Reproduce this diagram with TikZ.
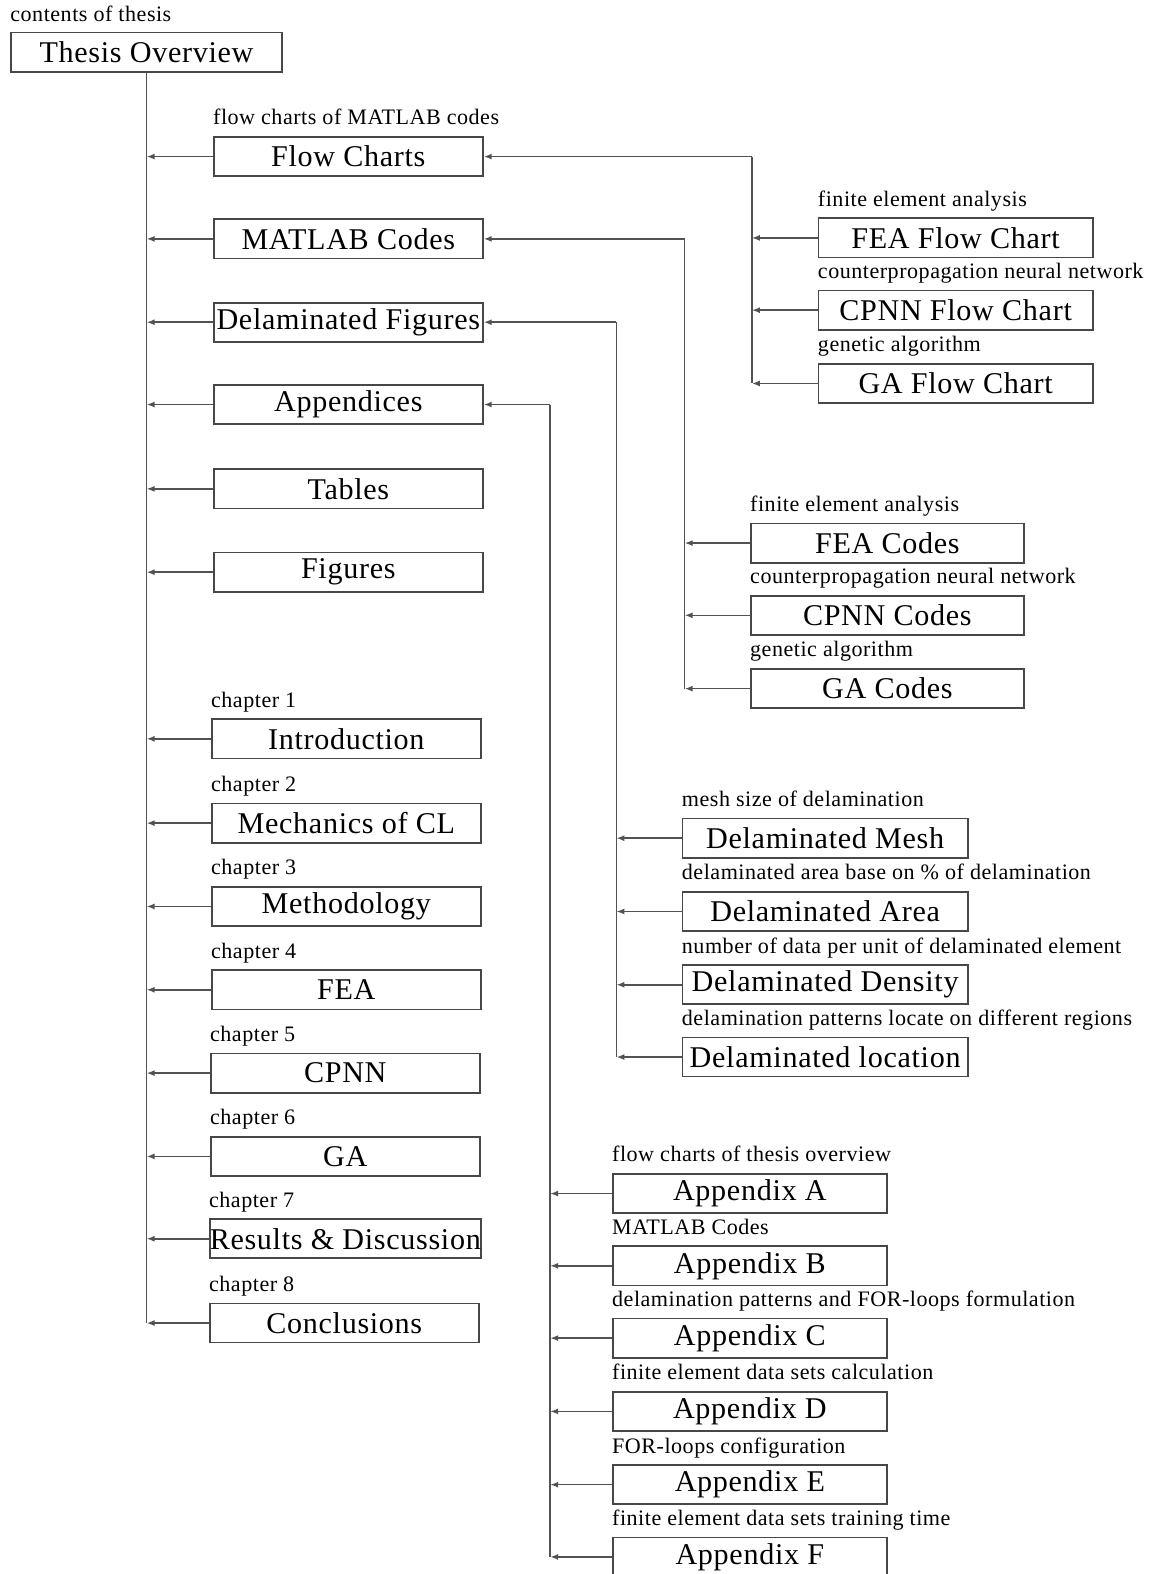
\documentclass[tikz,border=0pt]{standalone}
\usepackage{fontspec}
\setmainfont{Liberation Serif}[LetterSpace=2.3]
\usetikzlibrary{arrows.meta}
\begin{document}
\begin{tikzpicture}[x=1pt, y=-1pt,
    box/.style={draw=black!72, line width=1.7pt, minimum height=39pt, inner sep=0pt, font=\fontsize{30}{34}\selectfont},
    lbox/.style={box, minimum width=268pt},
    rbox/.style={box, minimum width=273pt},
    lab/.style={anchor=south west, inner sep=0pt, text height=15pt, text depth=5pt, font=\fontsize{22}{25}\selectfont},
    bus/.style={draw=black!68, line width=1.6pt},
    arr/.style={bus, -{Latex[length=8pt,width=6pt]}}]
    \useasboundingbox (0,0) rectangle (1146,1568);
    % main column
    \node[box, minimum width=270pt] (ov) at (146,52) {Thesis Overview};
    \node[lab] (ovlab) at ([yshift=5pt]ov.north west) {contents of thesis};
    \node[lbox] (flow) at (347,156) {Flow Charts};
    \node[lbox] (codes) at (347,238) {MATLAB Codes};
    \node[lbox] (delfig) at (347,321) {Delaminated Figures};
    \node[lbox] (apps) at (347,403) {Appendices};
    \node[lbox] (tabs) at (347,487) {Tables};
    \node[lbox] (figs) at (347,570) {Figures};
    \node[lbox] (ch1) at (345,736) {Introduction};
    \node[lbox] (ch2) at (345,820) {Mechanics of CL};
    \node[lbox] (ch3) at (345,903) {Methodology};
    \node[lbox] (ch4) at (345,986) {FEA};
    \node[lbox] (ch5) at (344,1069) {CPNN};
    \node[lbox] (ch6) at (344,1152) {GA};
    \node[lbox] (ch7) at (344,1234) {Results \& Discussion};
    \node[lbox] (ch8) at (343,1318) {Conclusions};
    \node[lab] (flowlab) at ([yshift=6pt]flow.north west) {flow charts of MATLAB codes};
    \node[lab] (ch1lab) at ([yshift=6pt]ch1.north west) {chapter 1};
    \node[lab] (ch2lab) at ([yshift=6pt]ch2.north west) {chapter 2};
    \node[lab] (ch3lab) at ([yshift=6pt]ch3.north west) {chapter 3};
    \node[lab] (ch4lab) at ([yshift=6pt]ch4.north west) {chapter 4};
    \node[lab] (ch5lab) at ([yshift=6pt]ch5.north west) {chapter 5};
    \node[lab] (ch6lab) at ([yshift=6pt]ch6.north west) {chapter 6};
    \node[lab] (ch7lab) at ([yshift=6pt]ch7.north west) {chapter 7};
    \node[lab] (ch8lab) at ([yshift=6pt]ch8.north west) {chapter 8};
    \draw[bus] (ov.south) -- (ov.south |- ch8.west);
    \foreach \n in {flow,codes,delfig,apps,tabs,figs,ch1,ch2,ch3,ch4,ch5,ch6,ch7,ch8}
        \draw[arr] (\n.west) -- (\n.west -| ov.south);
    % flow charts
    \node[rbox] (fcfea) at (952,237) {FEA Flow Chart};
    \node[rbox] (fccpnn) at (952,309) {CPNN Flow Chart};
    \node[rbox] (fcga) at (952,382) {GA Flow Chart};
    \node[lab] (fcfealab) at ([yshift=6pt]fcfea.north west) {finite element analysis};
    \node[lab] (fccpnnlab) at ([yshift=6pt]fccpnn.north west) {counterpropagation neural network};
    \node[lab] (fcgalab) at ([yshift=6pt]fcga.north west) {genetic algorithm};
    \coordinate (fcbus) at (749,156);
    \draw[arr] (fcbus) -- (flow.east);
    \draw[bus] (fcbus) -- (fcbus |- fcga.west);
    \foreach \n in {fcfea,fccpnn,fcga}
        \draw[arr] (\n.west) -- (\n.west -| fcbus);
    % matlab codes
    \node[box, minimum width=272pt] (cdfea) at (884,541) {FEA Codes};
    \node[box, minimum width=272pt] (cdcpnn) at (884,613) {CPNN Codes};
    \node[box, minimum width=272pt] (cdga) at (884,686) {GA Codes};
    \node[lab] (cdfealab) at ([yshift=6pt]cdfea.north west) {finite element analysis};
    \node[lab] (cdcpnnlab) at ([yshift=6pt]cdcpnn.north west) {counterpropagation neural network};
    \node[lab] (cdgalab) at ([yshift=6pt]cdga.north west) {genetic algorithm};
    \coordinate (cdbus) at (682,238);
    \draw[arr] (cdbus) -- (codes.east);
    \draw[bus] (cdbus) -- (cdbus |- cdga.west);
    \foreach \n in {cdfea,cdcpnn,cdga}
        \draw[arr] (\n.west) -- (\n.west -| cdbus);
    % delaminated figures
    \node[box, minimum width=284pt] (dmesh) at (822,835) {Delaminated Mesh};
    \node[box, minimum width=284pt] (darea) at (822,908) {Delaminated Area};
    \node[box, minimum width=284pt] (ddens) at (822,981) {Delaminated Density};
    \node[box, minimum width=284pt] (dloc) at (822,1053) {Delaminated location};
    \node[lab] (dmeshlab) at ([yshift=6pt]dmesh.north west) {mesh size of delamination};
    \node[lab] (darealab) at ([yshift=6pt]darea.north west) {delaminated area base on \% of delamination};
    \node[lab] (ddenslab) at ([yshift=6pt]ddens.north west) {number of data per unit of delaminated element};
    \node[lab] (dloclab) at ([yshift=6pt]dloc.north west) {delamination patterns locate on different regions};
    \coordinate (dbus) at (614,321);
    \draw[arr] (dbus) -- (delfig.east);
    \draw[bus] (dbus) -- (dbus |- dloc.west);
    \foreach \n in {dmesh,darea,ddens,dloc}
        \draw[arr] (\n.west) -- (\n.west -| dbus);
    % appendices
    \node[rbox] (appa) at (747,1189) {Appendix A};
    \node[rbox] (appb) at (747,1261) {Appendix B};
    \node[rbox] (appc) at (747,1333) {Appendix C};
    \node[rbox] (appd) at (747,1406) {Appendix D};
    \node[rbox] (appe) at (747,1479) {Appendix E};
    \node[rbox] (appf) at (747,1551) {Appendix F};
    \node[lab] (appalab) at ([yshift=6pt]appa.north west) {flow charts of thesis overview};
    \node[lab] (appblab) at ([yshift=6pt]appb.north west) {MATLAB Codes};
    \node[lab] (appclab) at ([yshift=6pt]appc.north west) {delamination patterns and FOR-loops formulation};
    \node[lab] (appdlab) at ([yshift=6pt]appd.north west) {finite element data sets calculation};
    \node[lab] (appelab) at ([yshift=6pt]appe.north west) {FOR-loops configuration};
    \node[lab] (appflab) at ([yshift=6pt]appf.north west) {finite element data sets training time};
    \coordinate (appbus) at (548,403);
    \draw[arr] (appbus) -- (apps.east);
    \draw[bus] (appbus) -- (appbus |- appf.west);
    \foreach \n in {appa,appb,appc,appd,appe,appf}
        \draw[arr] (\n.west) -- (\n.west -| appbus);
\end{tikzpicture}
\end{document}
